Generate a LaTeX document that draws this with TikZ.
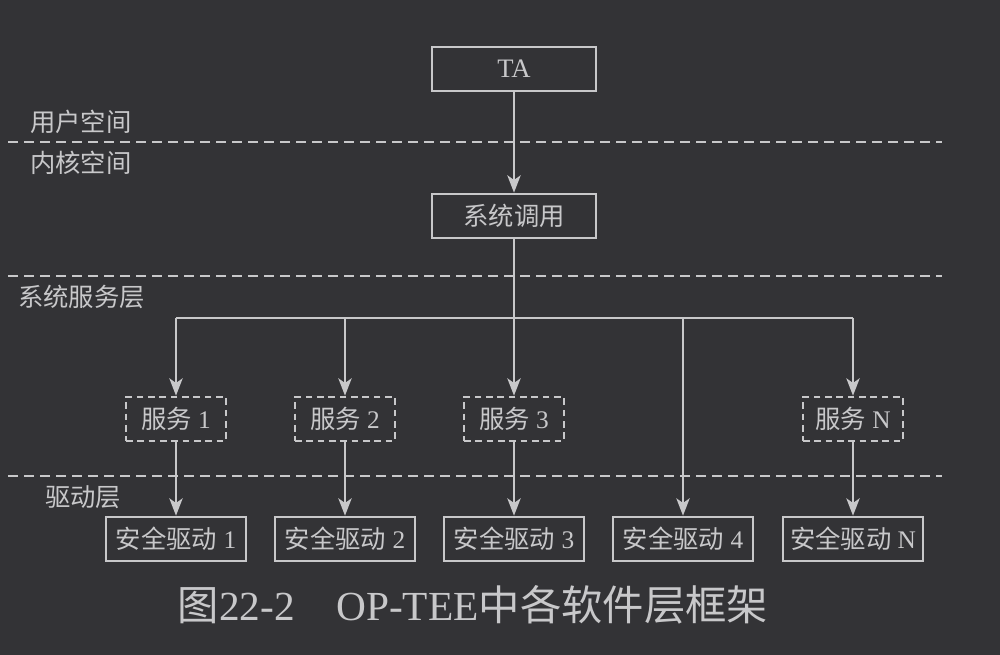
\documentclass[tikz,border=0pt]{standalone}
\usepackage{fontspec}
\setmainfont{Liberation Serif}
\newfontfamily\cjk{Noto Sans CJK SC}
\usetikzlibrary{arrows.meta}
\definecolor{bg}{HTML}{333336}
\definecolor{fg}{HTML}{C8C8CA}
\begin{document}
\begin{tikzpicture}[x=0.75pt,y=-0.75pt,
  txt/.style={text=fg, inner sep=0pt, font=\fontsize{19}{22}\selectfont},
  box/.style={txt, draw=fg, line width=2pt, minimum height=33pt},
  bigbox/.style={box, minimum width=123pt},
  svcbox/.style={box, dashed, dash pattern=on 5pt off 3.5pt, minimum width=75pt},
  drvbox/.style={box, minimum width=105pt},
  layerlabel/.style={txt, anchor=west},
  sepline/.style={draw=fg, line width=1.8pt, dash pattern=on 7.5pt off 4.5pt},
  conn/.style={draw=fg, line width=1.5pt},
  arr/.style={conn, -{Stealth[length=13pt, width=10pt, inset=3.5pt]}}
]
\useasboundingbox[fill=bg] (0,0) rectangle (1000,655);

% layer separators
\coordinate (sepAL) at (8,142);  \coordinate (sepAR) at (942,142);
\coordinate (sepBL) at (8,276);  \coordinate (sepBR) at (942,276);
\coordinate (sepCL) at (8,476);  \coordinate (sepCR) at (942,476);
\draw[sepline] (sepAL) -- (sepAR);
\draw[sepline] (sepBL) -- (sepBR);
\draw[sepline] (sepCL) -- (sepCR);

% layer labels
\node[layerlabel] (lu) at (30,122) {\cjk 用户空间};
\node[layerlabel] (lk) at (30,163) {\cjk 内核空间};
\node[layerlabel] (ls) at (18,297) {\cjk 系统服务层};
\node[layerlabel] (ld) at (45,497) {\cjk 驱动层};

% main boxes
\node[bigbox] (ta)  at (514,69)  {\fontsize{20}{22}\selectfont TA};
\node[bigbox] (sys) at (514,216) {\cjk 系统调用};

% services
\node[svcbox] (s1) at (176,419) {{\cjk 服务} 1};
\node[svcbox] (s2) at (345,419) {{\cjk 服务} 2};
\node[svcbox] (s3) at (514,419) {{\cjk 服务} 3};
\node[svcbox] (sN) at (853,419) {{\cjk 服务} N};

% drivers
\node[drvbox] (d1) at (176,539) {{\cjk 安全驱动} 1};
\node[drvbox] (d2) at (345,539) {{\cjk 安全驱动} 2};
\node[drvbox] (d3) at (514,539) {{\cjk 安全驱动} 3};
\node[drvbox] (d4) at (683,539) {{\cjk 安全驱动} 4};
\node[drvbox] (dN) at (853,539) {{\cjk 安全驱动} N};

% connectors
\coordinate (busL) at (176,318);
\coordinate (busR) at (853,318);
\draw[arr] (ta) -- (sys);
\draw[conn] (busL) -- (busR);
\draw[arr] (sys) -- (s3);
\draw[arr] (busL) -- (s1);
\draw[arr] (s2 |- busL) -- (s2);
\draw[arr] (d4 |- busL) -- (d4);
\draw[arr] (busR) -- (sN);
\draw[arr] (s1) -- (d1);
\draw[arr] (s2) -- (d2);
\draw[arr] (s3) -- (d3);
\draw[arr] (sN) -- (dN);

% caption
\node[txt, font=\fontsize{31}{36}\selectfont] (cap) at (473,605) {{\cjk 图}22-2\quad OP-TEE{\cjk 中各软件层框架}};
\end{tikzpicture}
\end{document}
